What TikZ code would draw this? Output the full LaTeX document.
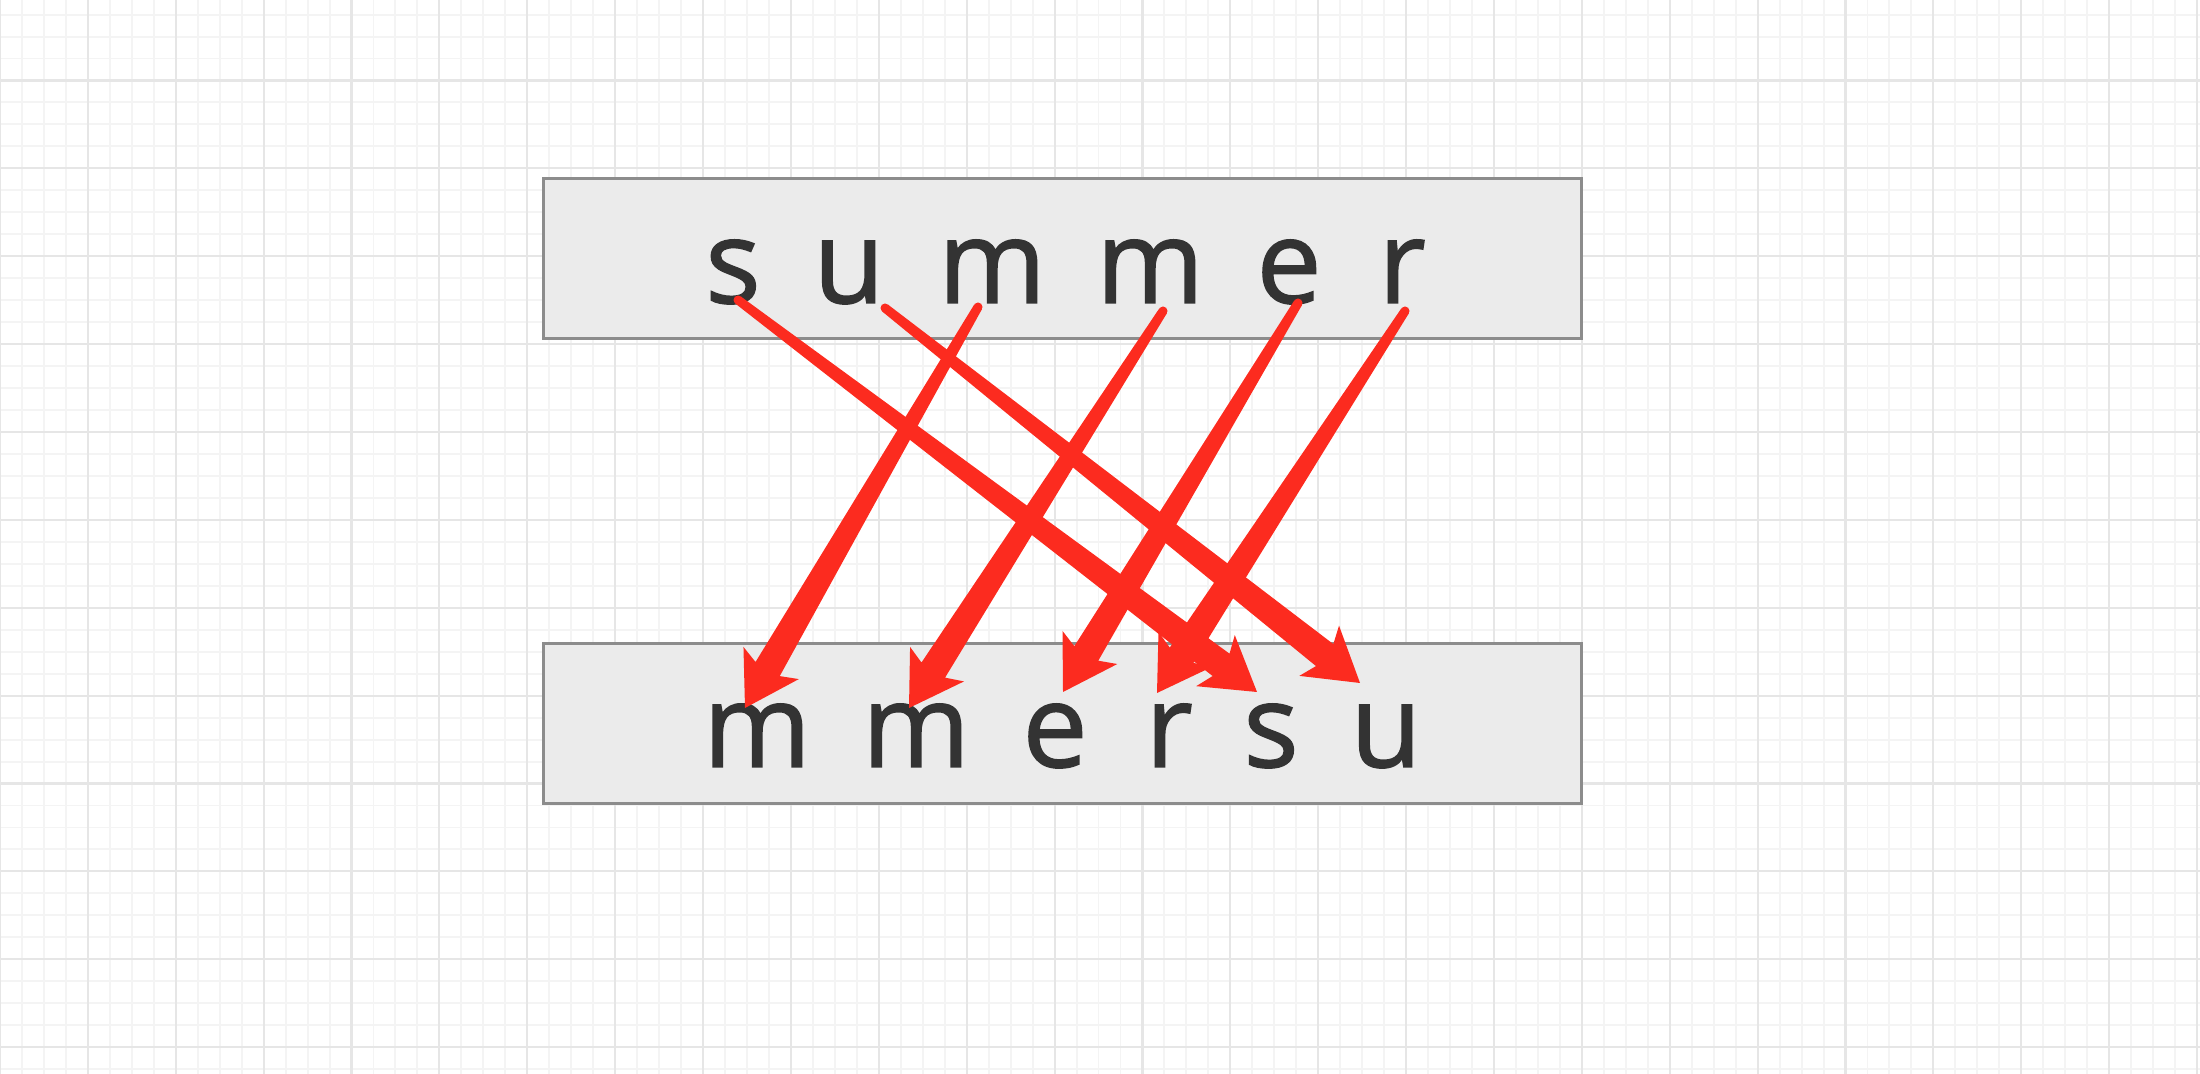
\documentclass[tikz,border=0pt]{standalone}
\usepackage{fontspec}
\setmainfont{Open Sans}
\newfontfamily\letterfont{Open Sans}[FakeBold=1.3]
\usetikzlibrary{calc}

\definecolor{gridminor}{HTML}{F4F4F4}
\definecolor{gridmajor}{HTML}{E6E6E6}
\definecolor{boxfill}{HTML}{EBEBEB}
\definecolor{boxline}{HTML}{8C8C8C}
\definecolor{ink}{HTML}{333333}
\definecolor{arrowred}{HTML}{FC2B1F}

% tapered arrow from #1 to the tip #2
\newcommand{\taperarrow}[2]{%
  \path #1 coordinate (tail) #2 coordinate (tip);
  \fill[arrowred] (tail) circle (0.045cm);
  \fill[arrowred] ($(tail)!0.045cm!90:(tip)$)
    -- ($(tip)!0.45cm!(tail)!0.14cm!-90:(tail)$)
    -- ($(tip)!0.52cm!(tail)!0.32cm!-90:(tail)$)
    -- (tip)
    -- ($(tip)!0.52cm!(tail)!0.32cm!90:(tail)$)
    -- ($(tip)!0.45cm!(tail)!0.14cm!90:(tail)$)
    -- ($(tail)!0.045cm!-90:(tip)$) -- cycle;}

\begin{document}
\begin{tikzpicture}[x=0.01cm, y=-0.01cm,
    letter/.style={anchor=base, text=ink, inner sep=0pt, font=\letterfont\fontsize{33}{40}\selectfont},
    box/.style={draw=boxline, line width=0.7pt, fill=boxfill, minimum width=10.37cm, minimum height=1.6cm, inner sep=0pt}]
  \useasboundingbox (0,0) rectangle (2200,1074);

  % grid paper
  \foreach \i in {0,...,100}
    \draw[gridminor, line width=0.55pt] (\i*21.97,0) -- (\i*21.97,1074);
  \foreach \i in {0,...,48}
    \draw[gridminor, line width=0.55pt] (0,14.6+\i*21.97) -- (2200,14.6+\i*21.97);
  \foreach \i in {0,...,25}
    \draw[gridmajor, line width=0.6pt] (\i*87.88,0) -- (\i*87.88,1074);
  \foreach \i in {0,...,11}
    \draw[gridmajor, line width=0.6pt] (0,80.5+\i*87.88) -- (2200,80.5+\i*87.88);

  % the two words
  \node[box] (topbox) at (1062.5,258.5) {};
  \node[box] (botbox) at (1062.5,723.5) {};

  \node[letter] (ts)  at (733,303)  {s};
  \node[letter] (tu)  at (849,303)  {u};
  \node[letter] (tm1) at (992,303)  {m};
  \node[letter] (tm2) at (1150,303) {m};
  \node[letter] (te)  at (1289,303) {e};
  \node[letter] (tr)  at (1402,303) {r};

  \node[letter] (bm1) at (757,767)  {m};
  \node[letter] (bm2) at (916,767)  {m};
  \node[letter] (be)  at (1055,767) {e};
  \node[letter] (br)  at (1169,767) {r};
  \node[letter] (bs)  at (1271,767) {s};
  \node[letter] (bu)  at (1386,767) {u};

  % where each letter goes
  \taperarrow{($(ts.base)+(5,-3)$)}{($(bs.base)+(-14,-75)$)}
  \taperarrow{($(tu.base)+(36,5)$)}{($(bu.base)+(-26,-84)$)}
  \taperarrow{($(tm1.base)+(-14,4)$)}{($(bm1.base)+(-12,-59)$)}
  \taperarrow{($(tm2.base)+(13,8)$)}{($(bm2.base)+(-7,-59)$)}
  \taperarrow{($(te.base)+(9,0)$)}{($(be.base)+(8,-75)$)}
  \taperarrow{($(tr.base)+(3,8)$)}{($(br.base)+(-12,-74)$)}
\end{tikzpicture}
\end{document}
